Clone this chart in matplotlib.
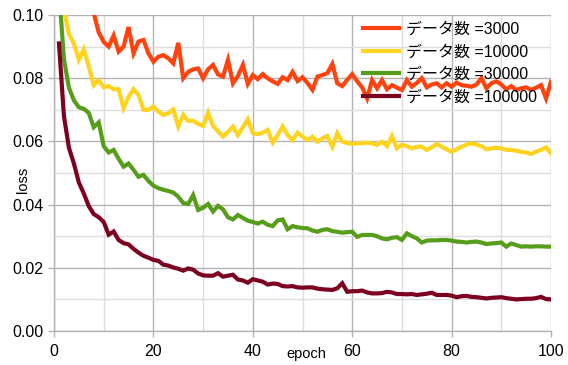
import numpy as np
import matplotlib
matplotlib.use('Agg')
import matplotlib.pyplot as plt
from matplotlib.ticker import MultipleLocator, FormatStrFormatter

plt.rcParams['font.family'] = ['Liberation Sans', 'Noto Sans CJK JP', 'DejaVu Sans']

epochs = list(range(1, 101))

# データ数 =3000
loss_3000 = [
    0.170, 0.145, 0.130, 0.120, 0.113, 0.108, 0.104, 0.1005, 0.0945, 0.0915,
    0.0900, 0.0935, 0.0884, 0.0900, 0.0962, 0.0879, 0.0916, 0.0921, 0.0879, 0.0852,
    0.0868, 0.0873, 0.0863, 0.0847, 0.0912, 0.0800, 0.0820, 0.0828, 0.0831, 0.0800,
    0.0828, 0.0842, 0.0812, 0.0805, 0.0858, 0.0784, 0.0807, 0.0842, 0.0782, 0.0810,
    0.0797, 0.0813, 0.0800, 0.0790, 0.0782, 0.0803, 0.0794, 0.0820, 0.0791, 0.0803,
    0.0785, 0.0763, 0.0805, 0.0810, 0.0816, 0.0845, 0.0784, 0.0775, 0.0795, 0.0813,
    0.0790, 0.0771, 0.0736, 0.0794, 0.0768, 0.0794, 0.0765, 0.0778, 0.0770, 0.0763,
    0.0794, 0.0773, 0.0785, 0.0800, 0.0771, 0.0780, 0.0784, 0.0771, 0.0784, 0.0773,
    0.0786, 0.0778, 0.0776, 0.0773, 0.0780, 0.0800, 0.0768, 0.0784, 0.0790, 0.0780,
    0.0765, 0.0775, 0.0763, 0.0768, 0.0771, 0.0763, 0.0770, 0.0778, 0.0736, 0.0789,
]

# データ数 =10000
loss_10000 = [
    0.130, 0.102, 0.094, 0.091, 0.0858, 0.0891, 0.0836, 0.0778, 0.0794, 0.0771,
    0.0775, 0.0765, 0.0765, 0.0705, 0.0741, 0.0765, 0.0747, 0.0700, 0.0700, 0.0710,
    0.0694, 0.0684, 0.0689, 0.0701, 0.0647, 0.0684, 0.0665, 0.0665, 0.0655, 0.0649,
    0.0691, 0.0649, 0.0632, 0.0615, 0.0630, 0.0647, 0.0620, 0.0645, 0.0670, 0.0626,
    0.0623, 0.0628, 0.0636, 0.0596, 0.0620, 0.0647, 0.0620, 0.0604, 0.0628, 0.0615,
    0.0604, 0.0615, 0.0599, 0.0610, 0.0617, 0.0583, 0.0626, 0.0599, 0.0595, 0.0592,
    0.0594, 0.0594, 0.0596, 0.0594, 0.0589, 0.0599, 0.0585, 0.0617, 0.0578, 0.0589,
    0.0585, 0.0578, 0.0583, 0.0583, 0.0573, 0.0581, 0.0592, 0.0583, 0.0575, 0.0567,
    0.0575, 0.0583, 0.0590, 0.0594, 0.0590, 0.0585, 0.0575, 0.0578, 0.0580, 0.0578,
    0.0573, 0.0573, 0.0570, 0.0567, 0.0565, 0.0560, 0.0568, 0.0573, 0.0581, 0.0562,
]

# データ数 =30000
loss_30000 = [
    0.108, 0.086, 0.077, 0.073, 0.0708, 0.0703, 0.0690, 0.0645, 0.0660, 0.0585,
    0.0565, 0.0573, 0.0545, 0.0520, 0.0530, 0.0510, 0.0488, 0.0494, 0.0475, 0.0460,
    0.0452, 0.0447, 0.0443, 0.0438, 0.0425, 0.0405, 0.0402, 0.0430, 0.0383, 0.0390,
    0.0402, 0.0378, 0.0396, 0.0385, 0.0360, 0.0353, 0.0367, 0.0358, 0.0349, 0.0345,
    0.0340, 0.0346, 0.0336, 0.0332, 0.0350, 0.0353, 0.0322, 0.0332, 0.0328, 0.0326,
    0.0325, 0.0318, 0.0314, 0.0320, 0.0322, 0.0316, 0.0314, 0.0311, 0.0313, 0.0314,
    0.0298, 0.0304, 0.0304, 0.0304, 0.0300, 0.0293, 0.0290, 0.0295, 0.0297, 0.0288,
    0.0309, 0.0300, 0.0293, 0.0280, 0.0286, 0.0287, 0.0287, 0.0288, 0.0288, 0.0286,
    0.0283, 0.0282, 0.0280, 0.0282, 0.0283, 0.0280, 0.0275, 0.0277, 0.0278, 0.0280,
    0.0267, 0.0277, 0.0272, 0.0267, 0.0268, 0.0267, 0.0268, 0.0268, 0.0267, 0.0267,
]

# データ数 =100000
loss_100000 = [
    0.091, 0.068, 0.058, 0.053, 0.047, 0.0435, 0.0395, 0.0370, 0.0360, 0.0345,
    0.0305, 0.0315, 0.0288, 0.0278, 0.0274, 0.0260, 0.0248, 0.0238, 0.0232, 0.0225,
    0.0222, 0.0210, 0.0207, 0.0201, 0.0197, 0.0191, 0.0198, 0.0194, 0.0182, 0.0176,
    0.0175, 0.0175, 0.0183, 0.0172, 0.0175, 0.0178, 0.0163, 0.0160, 0.0153, 0.0164,
    0.0160, 0.0156, 0.0147, 0.0150, 0.0149, 0.0142, 0.0141, 0.0142, 0.0138, 0.0137,
    0.0138, 0.0138, 0.0134, 0.0132, 0.0131, 0.0130, 0.0135, 0.0151, 0.0124, 0.0126,
    0.0126, 0.0128, 0.0122, 0.0119, 0.0119, 0.0120, 0.0124, 0.0122, 0.0117, 0.0117,
    0.0116, 0.0117, 0.0114, 0.0116, 0.0118, 0.0121, 0.0114, 0.0114, 0.0114, 0.0112,
    0.0107, 0.0110, 0.0111, 0.0108, 0.0107, 0.0105, 0.0103, 0.0105, 0.0106, 0.0107,
    0.0104, 0.0102, 0.0100, 0.0101, 0.0102, 0.0102, 0.0104, 0.0108, 0.0101, 0.0100,
]

series = [
    ('データ数 =3000', loss_3000, '#ff420e'),
    ('データ数 =10000', loss_10000, '#ffd320'),
    ('データ数 =30000', loss_30000, '#579d1c'),
    ('データ数 =100000', loss_100000, '#7e0021'),
]

fig = plt.figure(figsize=(5.68, 3.65), dpi=100)
ax = fig.add_axes([54 / 568, 1 - 331 / 365, 497 / 568, 316 / 365])

for label, vals, color in series:
    ax.plot(epochs, vals, color=color, lw=3.0, label=label,
            solid_joinstyle='miter', clip_on=True)

ax.set_xlim(0, 100)
ax.set_ylim(0, 0.10)
ax.xaxis.set_major_locator(MultipleLocator(20))
ax.xaxis.set_minor_locator(MultipleLocator(10))
ax.yaxis.set_major_locator(MultipleLocator(0.02))
ax.yaxis.set_minor_locator(MultipleLocator(0.01))
ax.yaxis.set_major_formatter(FormatStrFormatter('%.2f'))

ax.grid(which='major', color='#b3b3b3', lw=1.0)
ax.grid(which='minor', color='#dddddd', lw=1.0)
ax.set_axisbelow(True)

for s in ax.spines.values():
    s.set_color('#b3b3b3')
    s.set_linewidth(1.0)
ax.spines['top'].set_visible(False)
ax.spines['right'].set_visible(False)

ax.tick_params(which='major', length=4.5, width=1.0, color='#b3b3b3',
               labelsize=11.5, labelcolor='black', pad=3)
ax.tick_params(axis='x', which='major', pad=5)
ax.tick_params(which='minor', length=0)

ax.set_xlabel('epoch', fontsize=10.5)
ax.xaxis.label.set_va('center')
ax.xaxis.set_label_coords(0.507, -0.072)
ax.set_ylabel('loss', fontsize=10.5)
ax.yaxis.label.set_va('center')
ax.yaxis.set_label_coords(-0.062, 0.478)

# legend sits inside the plot, no frame, lines show through
leg = ax.legend(loc='upper left', bbox_to_anchor=(0.621, 0.978), frameon=False,
                fontsize=11.5, handlelength=2.3, handletextpad=0.4,
                labelspacing=0.47, borderpad=0.0, borderaxespad=0.0)

fig.savefig('out.png', dpi=100)
